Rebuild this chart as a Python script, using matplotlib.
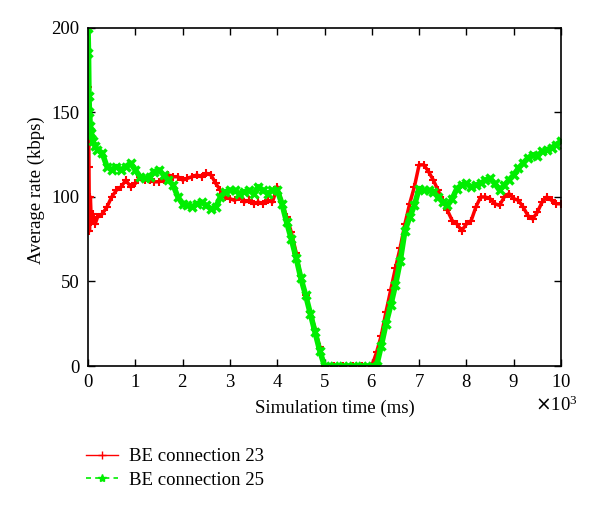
import numpy as np
import matplotlib
matplotlib.use("Agg")
import matplotlib.pyplot as plt
from matplotlib.lines import Line2D
from matplotlib.ticker import ScalarFormatter

# time in units of 10^3 ms, rate in kbps
t23 = [0.0, 0.01, 0.02, 0.03, 0.05, 0.07, 0.1, 0.15, 0.2, 0.3, 0.4, 0.5, 0.6, 0.7, 0.8, 0.9,
       1.0, 1.1, 1.2, 1.3, 1.4, 1.5, 1.6, 1.7, 1.8, 1.9, 2.0, 2.1, 2.2, 2.3, 2.4, 2.5, 2.6, 2.7,
       2.8, 2.9, 3.0, 3.1, 3.2, 3.3, 3.4, 3.5, 3.6, 3.7, 3.8, 3.9, 4.0, 4.1, 4.2, 4.3, 4.4, 4.5,
       4.6, 4.7, 4.8, 4.9, 5.0, 5.2, 5.4, 5.6, 5.8, 6.0, 6.1, 6.2, 6.3, 6.4, 6.5, 6.6, 6.7, 6.8,
       6.9, 7.0, 7.1, 7.2, 7.3, 7.4, 7.5, 7.6, 7.7, 7.8, 7.9, 8.0, 8.1, 8.2, 8.3, 8.4, 8.5, 8.6,
       8.7, 8.8, 8.9, 9.0, 9.1, 9.2, 9.3, 9.4, 9.5, 9.6, 9.7, 9.8, 9.9, 10.0]
rate23 = [200, 165, 118, 80, 100, 85, 90, 84, 88, 90, 94, 100, 104, 106, 110, 106,
          108, 112, 110, 110, 109, 109, 110, 113, 112, 112, 110, 111, 112, 113, 112, 114, 113, 108,
          104, 100, 99, 98, 100, 97, 98, 96, 97, 96, 98, 97, 106, 97, 88, 79, 67, 53,
          42, 32, 22, 11, 0, 0, 0, 0, 0, 0, 8, 18, 32, 45, 58, 70, 84, 96,
          106, 119, 119, 115, 110, 104, 98, 92, 86, 84, 80, 84, 86, 94, 100, 100, 99, 96,
          95, 100, 102, 99, 98, 94, 89, 87, 91, 97, 100, 98, 96, 96]

t25 = [0.0, 0.01, 0.02, 0.03, 0.05, 0.07, 0.1, 0.15, 0.2, 0.3, 0.4, 0.5, 0.6, 0.7, 0.8, 0.9,
       1.0, 1.1, 1.2, 1.3, 1.4, 1.5, 1.6, 1.7, 1.8, 1.9, 2.0, 2.1, 2.2, 2.3, 2.4, 2.5, 2.6, 2.7,
       2.8, 2.9, 3.0, 3.1, 3.2, 3.3, 3.4, 3.5, 3.6, 3.7, 3.8, 3.9, 4.0, 4.1, 4.2, 4.3, 4.4, 4.5,
       4.6, 4.7, 4.8, 4.9, 5.0, 5.2, 5.4, 5.6, 5.8, 6.0, 6.1, 6.2, 6.3, 6.4, 6.5, 6.6, 6.7, 6.8,
       6.9, 7.0, 7.1, 7.2, 7.3, 7.4, 7.5, 7.6, 7.7, 7.8, 7.9, 8.0, 8.1, 8.2, 8.3, 8.4, 8.5, 8.6,
       8.7, 8.8, 8.9, 9.0, 9.1, 9.2, 9.3, 9.4, 9.5, 9.6, 9.7, 9.8, 9.9, 10.0]
rate25 = [200, 185, 160, 150, 142, 138, 133, 130, 128, 126, 118, 116, 118, 116, 118, 120,
          116, 112, 111, 112, 115, 116, 113, 110, 107, 100, 96, 95, 94, 96, 97, 95, 93, 94,
          100, 103, 104, 104, 102, 103, 104, 102, 106, 104, 102, 104, 104, 96, 85, 75, 64, 52,
          42, 31, 20, 9, 0, 0, 0, 0, 0, 0, 0, 12, 25, 36, 48, 62, 80, 88,
          95, 105, 104, 104, 103, 100, 97, 95, 99, 105, 107, 108, 106, 107, 108, 110, 111, 108,
          104, 107, 110, 113, 117, 120, 123, 125, 124, 127, 128, 129, 131, 133]

RED = '#ff0000'
GREEN = '#00ee00'

plt.rcParams['font.family'] = ['Liberation Serif', 'DejaVu Serif']
plt.rcParams['font.size'] = 13.5

fig = plt.figure(figsize=(6, 5.08), dpi=100)
ax = fig.add_axes([0.1467, 0.2795, 0.7883, 0.6655])

# dense markers in the original make the curves look like thick bands
ax.plot(np.array(t23) * 1000, rate23, color=RED, linestyle='-', linewidth=2.5,
        marker='+', markersize=6, markeredgewidth=1.5)
ax.plot(np.array(t25) * 1000, rate25, color=GREEN, linestyle='-', linewidth=4,
        marker='x', markersize=6, markeredgewidth=2.5)

ax.set_xlim(0, 10000)
ax.set_ylim(0, 200)
ax.set_xticks(np.arange(0, 10001, 1000))
ax.set_yticks([0, 50, 100, 150, 200])
fmt = ScalarFormatter(useMathText=True)
fmt.set_powerlimits((3, 3))
ax.xaxis.set_major_formatter(fmt)
ax.xaxis.get_offset_text().set_x(1.036)
ax.tick_params(direction='in', top=True, right=True, length=5, width=1, pad=6)
for s in ax.spines.values():
    s.set_linewidth(1.2)

ax.set_xlabel('Simulation time (ms)')
ax.xaxis.set_label_coords(0.522, -0.1)
ax.set_ylabel('Average rate (kbps)')
ax.yaxis.set_label_coords(-0.09, 0.52)

handles = [Line2D([], [], color=RED, linestyle='-', linewidth=1, marker='+',
                  markersize=6, markeredgewidth=1),
           Line2D([], [], color=GREEN, linestyle='--', dashes=(3, 2.5), linewidth=1.2,
                  marker='*', markersize=6)]
fig.legend(handles, ['BE connection 23', 'BE connection 25'], loc='upper left',
           bbox_to_anchor=(0.143, 0.118), frameon=False, numpoints=1,
           borderpad=0, borderaxespad=0, handlelength=1.7, handletextpad=0.6,
           labelspacing=0.36)

fig.savefig('out.png', dpi=100)
